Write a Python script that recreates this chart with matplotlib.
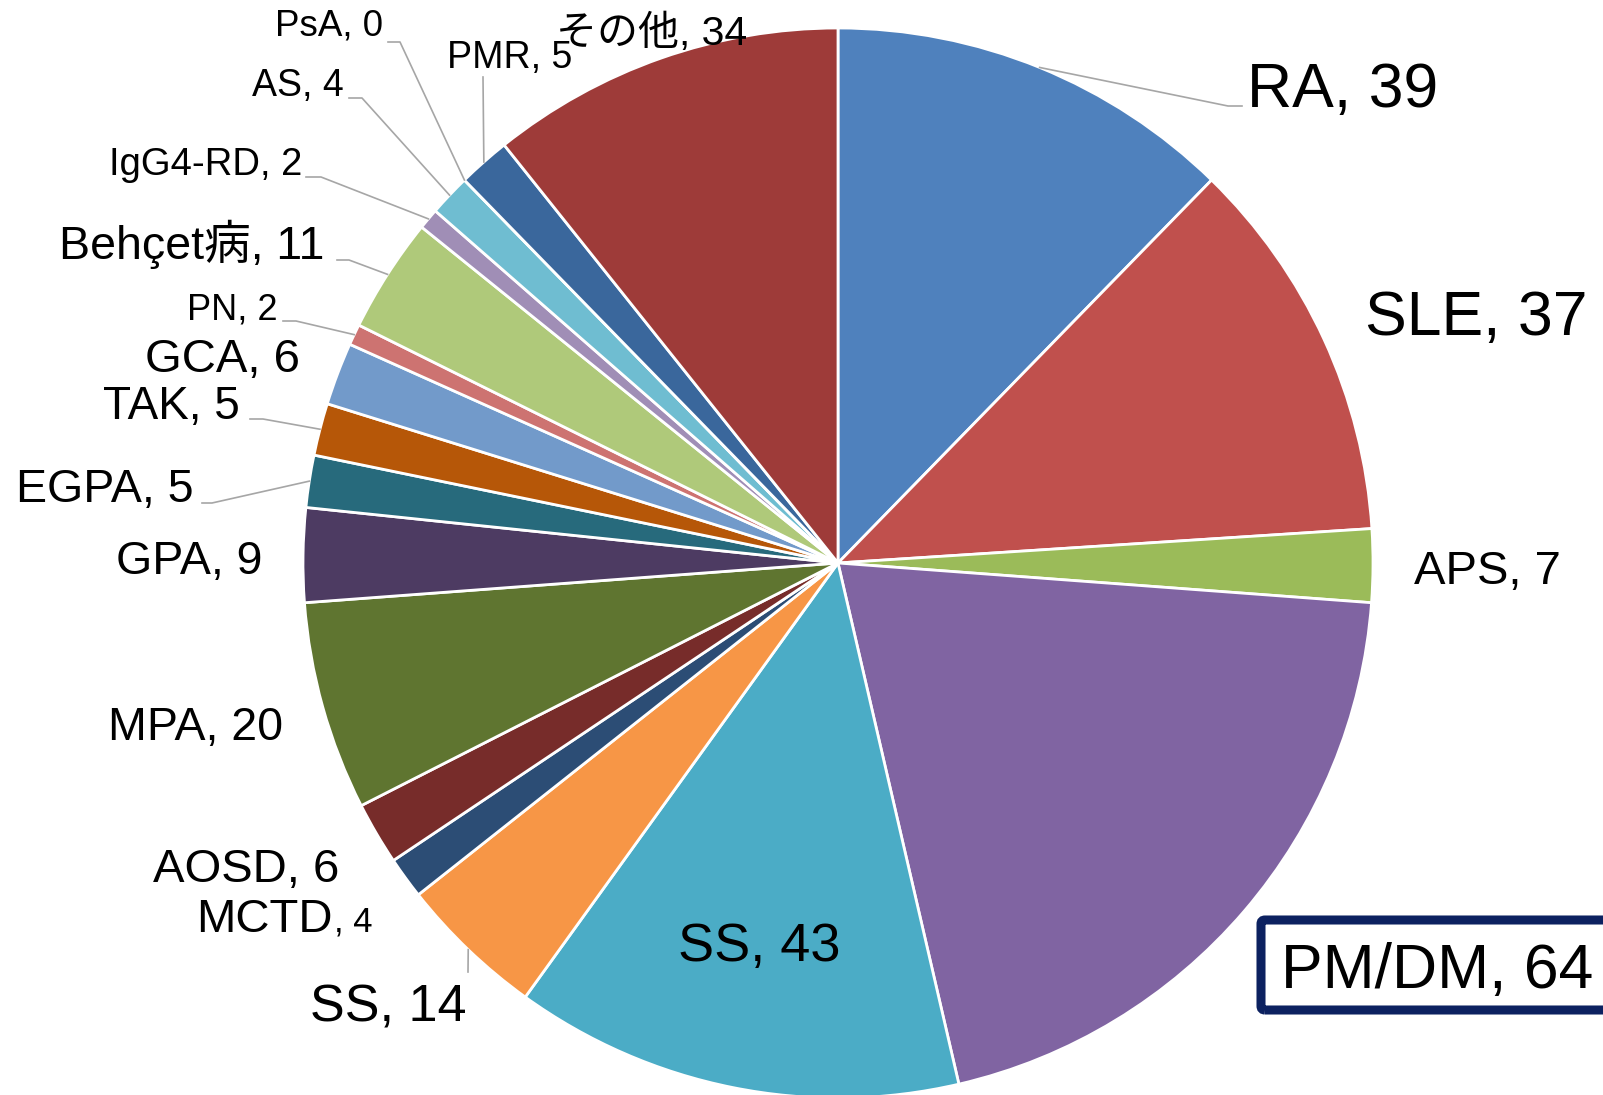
import numpy as np
import matplotlib
import matplotlib.pyplot as plt
from matplotlib.patches import FancyBboxPatch

matplotlib.use('Agg')

# ============================
# Dados
# ============================
diseases = ['RA', 'SLE', 'APS', 'PM/DM', 'SS', 'SS', 'MCTD', 'AOSD', 'MPA', 'GPA',
            'EGPA', 'TAK', 'GCA', 'PN', 'Behçet病', 'IgG4-RD', 'AS', 'PsA', 'PMR', 'その他']
counts = [39, 37, 7, 64, 43, 14, 4, 6, 20, 9, 5, 5, 6, 2, 11, 2, 4, 0, 5, 34]
colors = ['#4F81BD', '#C0504D', '#9BBB59', '#8064A2', '#4BACC6', '#F79646',
          '#2C4D75', '#772C2A', '#5F7530', '#4D3B62', '#276A7C', '#B65708',
          '#729ACA', '#CD7371', '#AFC97A', '#A08EB6', '#6FBDD1', '#F9AB6B',
          '#3A679C', '#9E3B39']

# ============================
# Layout (pixels, imagem 1603x1095)
# ============================
W, H = 1603, 1095
CX, CY, R = 838, 563, 535

def iy(y):
    return H - y

# x, baseline y, ha, fontsize
label_pos = [
    (1247, 107, 'left', 45),    # RA
    (1365, 335, 'left', 45),    # SLE
    (1414, 584, 'left', 34),    # APS
    (1281, 988, 'left', 45),    # PM/DM
    (678, 961, 'left', 39),     # SS 43
    (466, 1021, 'right', 37.5), # SS 14
    (333, 932, 'right', 34),    # MCTD
    (339, 882, 'right', 34),    # AOSD
    (283, 740, 'right', 33.5),  # MPA
    (263, 574, 'right', 33.5),  # GPA
    (194, 502, 'right', 33.5),  # EGPA
    (240, 419, 'right', 33),    # TAK
    (300, 372, 'right', 34),    # GCA
    (278, 320, 'right', 26),    # PN
    (324, 259, 'right', 33.5),  # Behcet
    (302, 175, 'right', 27.5),  # IgG4-RD
    (344, 96, 'right', 27),     # AS
    (383, 35, 'right', 26.5),   # PsA
    (572, 68, 'right', 27),     # PMR
    (747, 45, 'right', 29.5),   # その他
]

# linhas guia: indice -> (inicio, cotovelo)
leaders = {
    0: ((1242, 106), (1228, 106)),
    5: ((468, 972), (468, 972)),
    10: ((202, 503), (212, 503)),
    11: ((250, 419), (263, 419)),
    13: ((283, 321), (296, 321)),
    14: ((337, 260), (349, 260)),
    15: ((306, 177), (321, 177)),
    16: ((349, 98), (362, 98)),
    17: ((388, 42), (400, 42)),
    18: ((483, 77), (483, 77)),
}

plt.rcParams['font.family'] = ['Liberation Sans', 'Noto Sans CJK JP', 'DejaVu Sans']

fig = plt.figure(figsize=(W / 100, H / 100), dpi=100)
ax = fig.add_axes([0, 0, 1, 1])

wedges, _ = ax.pie(counts, colors=colors, startangle=90, counterclock=False,
                   center=(CX, iy(CY)), radius=R,
                   wedgeprops=dict(edgecolor='white', linewidth=2))

ax.set_xlim(0, W)
ax.set_ylim(0, H)
ax.set_aspect('equal')
ax.axis('off')

# rotulos
for i, (name, n) in enumerate(zip(diseases, counts)):
    x, y, ha, fs = label_pos[i]
    if name == 'MCTD':
        ax.text(x, iy(y), name, ha='right', va='baseline', fontsize=fs)
        ax.text(x + 1, iy(y), f', {n}', ha='left', va='baseline', fontsize=25)
        continue
    ax.text(x, iy(y), f'{name}, {n}', ha=ha, va='baseline', fontsize=fs)

# linhas guia ate a borda da fatia
for i, (p0, p1) in leaders.items():
    w = wedges[i]
    ang = np.deg2rad((w.theta1 + w.theta2) / 2)
    ex = CX + R * np.cos(ang)
    ey = iy(CY) + R * np.sin(ang)
    ax.plot([p0[0], p1[0], ex], [iy(p0[1]), iy(p1[1]), ey],
            color='#A6A6A6', lw=1.2, zorder=3)

# caixa do PM/DM
box = FancyBboxPatch((1261, iy(1010)), 400, 90,
                     boxstyle='round,pad=0,rounding_size=4',
                     fill=False, edgecolor='#0C2160', linewidth=6.5, zorder=4)
ax.add_patch(box)

plt.savefig('out.png', dpi=100)
